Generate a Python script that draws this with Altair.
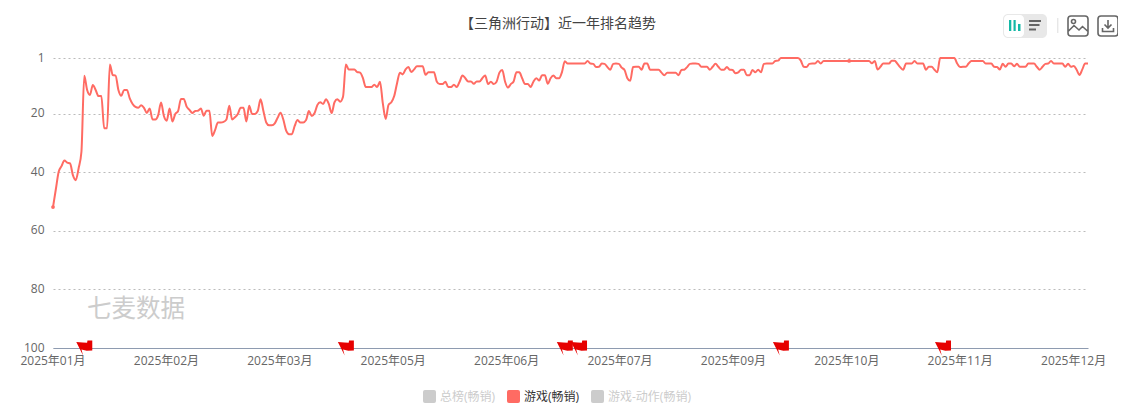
import altair as alt
import pandas as pd

title_text = "【三角洲行动】近一年排名趋势"
month_labels = ["2025年01月","2025年02月","2025年03月","2025年05月","2025年06月","2025年07月","2025年09月","2025年10月","2025年11月","2025年12月"]
series_names = ["总榜(畅销)","游戏(畅销)","游戏-动作(畅销)"]
rank_ticks = [1,20,40,60,80,100]

seg1 = [51.9,45.8,39.8,37.9,36,36.7,37,41,42.7,38.7,33,7.1,11.9,13.6,10.2,11.9,14,14,25,25,3.2,6.8,7,11.9,13.9,11.9,11.9,14.8,16.7,17.7,18,17.1,18,19.8,18.2,22,22,20.5,16.2,20.8,22.4,18.2,22.7,20.1,19.1,15,15,17.6,18.7,19.8,19.1,19,18.2,20.7,19,19,27.6,25.6,23,23,22.8,22,17.3,22,21.2,20.1,18,18,22.7,17.3,20.1,20.1,19.1,15.1,19.1,23,24,24,23.3,21.4,19.7,22,25.8,27,27,24.2,22.2,23,23,22.2,19.1]
seg2 = [20.8,19.8,17,16.1,16.7,15.1,16.7,19.8,16.1,15.1,15.9,14.2,3.2,4.9,4.9,4.9,5.8,6,7.9,10.9,10.9,10.9,10.1,10.9,9.1,16.5,21.8,17,16.1,14,9.6,6,6.6,4.9,4.1,5.8,4.9,3.8,3.8,3.8,6.7,5.9,5.9,5.9,9.1,9.9,9.9,9.1,10.9,10.9,10.1,10.9,9.1,7,7.9,9,9,9.8,9,9,7.9,7,9.9,9.1,9.9,9.1,6,5.1,9.1,11.1,9.9,9,5.9,5.9,7.9,9.9,9.9,10.9,9,7.9,8.7,6.9,6.9,9.8,7.9,7,7.9,7.9,5.8,2.1]
seg3 = [2.9,2.9,2.9,2.9,2.9,2.9,2.9,2,2.9,3,4.1,4,2.9,3,4.1,5,3,2.9,3,4.3,5.1,7.9,8.8,4.1,4,4,5,2.9,2.9,5,5,5,5,6,6.9,6,6,6,6,6.9,5.1,5,4.1,3,2.9,2.9,3,4,4,4,5,4,3,4,5,5,4.1,5,5.1,6.2,5.9,5,5,6.9,6.9,5.1,5.9,5,5.9,3,2.9,2.9,2.9,2,1.9,1,1,1,1,1,1,1,1.9,4,4.1,3,2.9,2.9,2,2.9,2]
seg4 = [2,2,2,2,2,2,2,2,2,2,2,2,2,2,2,2,2.8,2,4.9,4,2.9,2.9,2.9,1.9,1.9,3,4.2,5,2.9,2.9,2.9,2,2.9,2.9,2.9,5,4,4,5,5.9,1,1,1,1,1,1,2.9,4.1,4,4,2.9,2,2,2,2,2,2.9,2.9,2.9,4,4.1,4.9,3,4,2.9,2.9,3.8,3,4,4,4,2.9,2.9,2.9,4,5,4,3,2.9,2,2.9,2.9,2.9,2.9,4,3,4,3.7,5,6.8,4.9,2.9,2.9]
ranks = seg1 + seg2 + seg3 + seg4
N = len(ranks)
flag_days = [11,103,180,185,256,313]
marker_days = [0,280]

df = pd.DataFrame({"day": list(range(N)), "rank": ranks})
k = (N - 1) * 113.4 / 1035
tick_days = [k * i for i in range(len(month_labels))]
label_js = "[" + ",".join(f"'{m}'" for m in month_labels) + "]"

FONT = "Open Sans, Noto Sans CJK SC"
GREY = "#666666"
LINE = "#ff6b63"
x_scale = alt.Scale(domain=[0, N - 1], nice=False, zero=False)
y_scale = alt.Scale(domain=[1, 100], reverse=True, nice=False, zero=False)

x_enc = alt.X("day:Q", scale=x_scale, axis=alt.Axis(
    values=tick_days, labelExpr=f"{label_js}[round(datum.value/{k})]", title=None, grid=False,
    ticks=False, labelFontSize=12, labelColor=GREY, labelFont=FONT, domainColor="#8e9bb0",
    labelPadding=7, labelOverlap=False, labelFlush=False, labelBound=False, labelOffset=-0.5))
y_enc = alt.Y("rank:Q", scale=y_scale, axis=alt.Axis(
    values=rank_ticks, title=None, domain=False, ticks=False, labelFontSize=12, labelColor=GREY,
    labelFont=FONT, labelPadding=9, labelOffset=-1, gridDash=[2, 3], gridColor="#bbbbbb", gridWidth=1))

line = alt.Chart(df).mark_line(color=LINE, strokeWidth=2, interpolate="monotone", clip=False).encode(x=x_enc, y=y_enc)

ROUND = "M-0.7,-1H0.7Q1,-1 1,-0.7V0.7Q1,1 0.7,1H-0.7Q-1,1 -1,0.7V-0.7Q-1,-1 -0.7,-1Z"
pts = pd.DataFrame({"day": marker_days, "rank": [ranks[d] for d in marker_days], "series": [series_names[1]] * len(marker_days)})
points = alt.Chart(pts).mark_point(filled=True, size=14, opacity=1).encode(
    x=alt.X("day:Q", scale=x_scale), y=alt.Y("rank:Q", scale=y_scale),
    fill=alt.Fill("series:N", scale=alt.Scale(domain=series_names, range=["#cccccc", LINE, "#cccccc"]),
        legend=alt.Legend(title=None, orient="none", direction="horizontal", columns=3, legendX=370, legendY=332,
            symbolType=ROUND, symbolSize=169, symbolStrokeWidth=0, symbolOpacity=1, labelFontSize=12, labelFont=FONT,
            labelOffset=4, columnPadding=11, padding=0,
            labelColor=alt.expr("datum.value == '游戏(畅销)' ? '#333333' : '#cccccc'"))))

FLAG = "M-1,-0.75L-0.2,-0.7L0.35,-0.65L0.4,-0.95L1,-0.95L1,0.3L0.3,0.35L-0.35,0.2L-0.15,0.95Z"
flags_df = pd.DataFrame({"day": flag_days, "rank": [100] * len(flag_days)})
flags = alt.Chart(flags_df).mark_point(shape=FLAG, filled=True, color="#e60000", size=256, opacity=1, clip=False).encode(
    x=alt.X("day:Q", scale=x_scale), y=alt.Y("rank:Q", scale=y_scale))

one = pd.DataFrame({"a": [0]})
def px(x): return alt.value(x - 53)
def py(y): return alt.value(y - 58)

watermark = alt.Chart(one).mark_text(text="七麦数据", font="Noto Sans CJK SC", fontSize=24.5, color="#cccccc", align="left", baseline="middle").encode(x=px(87), y=py(310))
title_mark = alt.Chart(one).mark_text(text=title_text, font="Noto Sans CJK SC", fontSize=14, color="#444444", align="center", baseline="middle").encode(x=px(558), y=py(24))

def box(x1, x2, y1, y2, color, r=0):
    return alt.Chart(one).mark_rect(color=color, cornerRadius=r, opacity=1).encode(x=px(x1), x2=px(x2), y=py(y1), y2=py(y2))

IMG = "M-0.7,-1H0.7Q1,-1 1,-0.7V0.7Q1,1 0.7,1H-0.7Q-1,1 -1,0.7V-0.7Q-1,-1 -0.7,-1Z M-1,0.55L-0.4,-0.05L0.1,0.4L0.45,0.05L1,0.55 M-0.25,-0.45A0.2,0.2 0 1 0 -0.65,-0.45A0.2,0.2 0 1 0 -0.25,-0.45Z"
DL = "M-0.7,-1H0.7Q1,-1 1,-0.7V0.7Q1,1 0.7,1H-0.7Q-1,1 -1,0.7V-0.7Q-1,-1 -0.7,-1Z M0,-0.6V0.15 M-0.35,-0.15L0,0.2L0.35,-0.15 M-0.55,0.2V0.55H0.55V0.2"
def icon(path, cx):
    return alt.Chart(one).mark_point(shape=path, filled=False, stroke="#666666", strokeWidth=1.6, size=400, opacity=1).encode(x=px(cx), y=py(26))

toolbar = [
    box(1003,1047,14,38,"#e8e8e8",5), box(1004,1024,15,37,"#ffffff",4),
    box(1009,1011.3,20,31,"#14b8a6"), box(1013.5,1015.7,20,31,"#14b8a6"), box(1018,1020.5,24,31,"#14b8a6"),
    box(1029,1041,20,22,"#666666"), box(1029,1039.5,24,26,"#666666"), box(1029,1036,28.5,30.5,"#666666"),
    box(1057.3,1058.3,18,33,"#dddddd"),
    icon(IMG,1078), icon(DL,1108),
]

chart = alt.layer(line, points, flags, watermark, title_mark, *toolbar).properties(
    width=1035, height=290, autosize="none",
    padding={"left":45,"top":50,"right":30,"bottom":60},
).configure_view(stroke=None)

chart.save("out.html", embed_options={"renderer": "svg", "actions": False})
